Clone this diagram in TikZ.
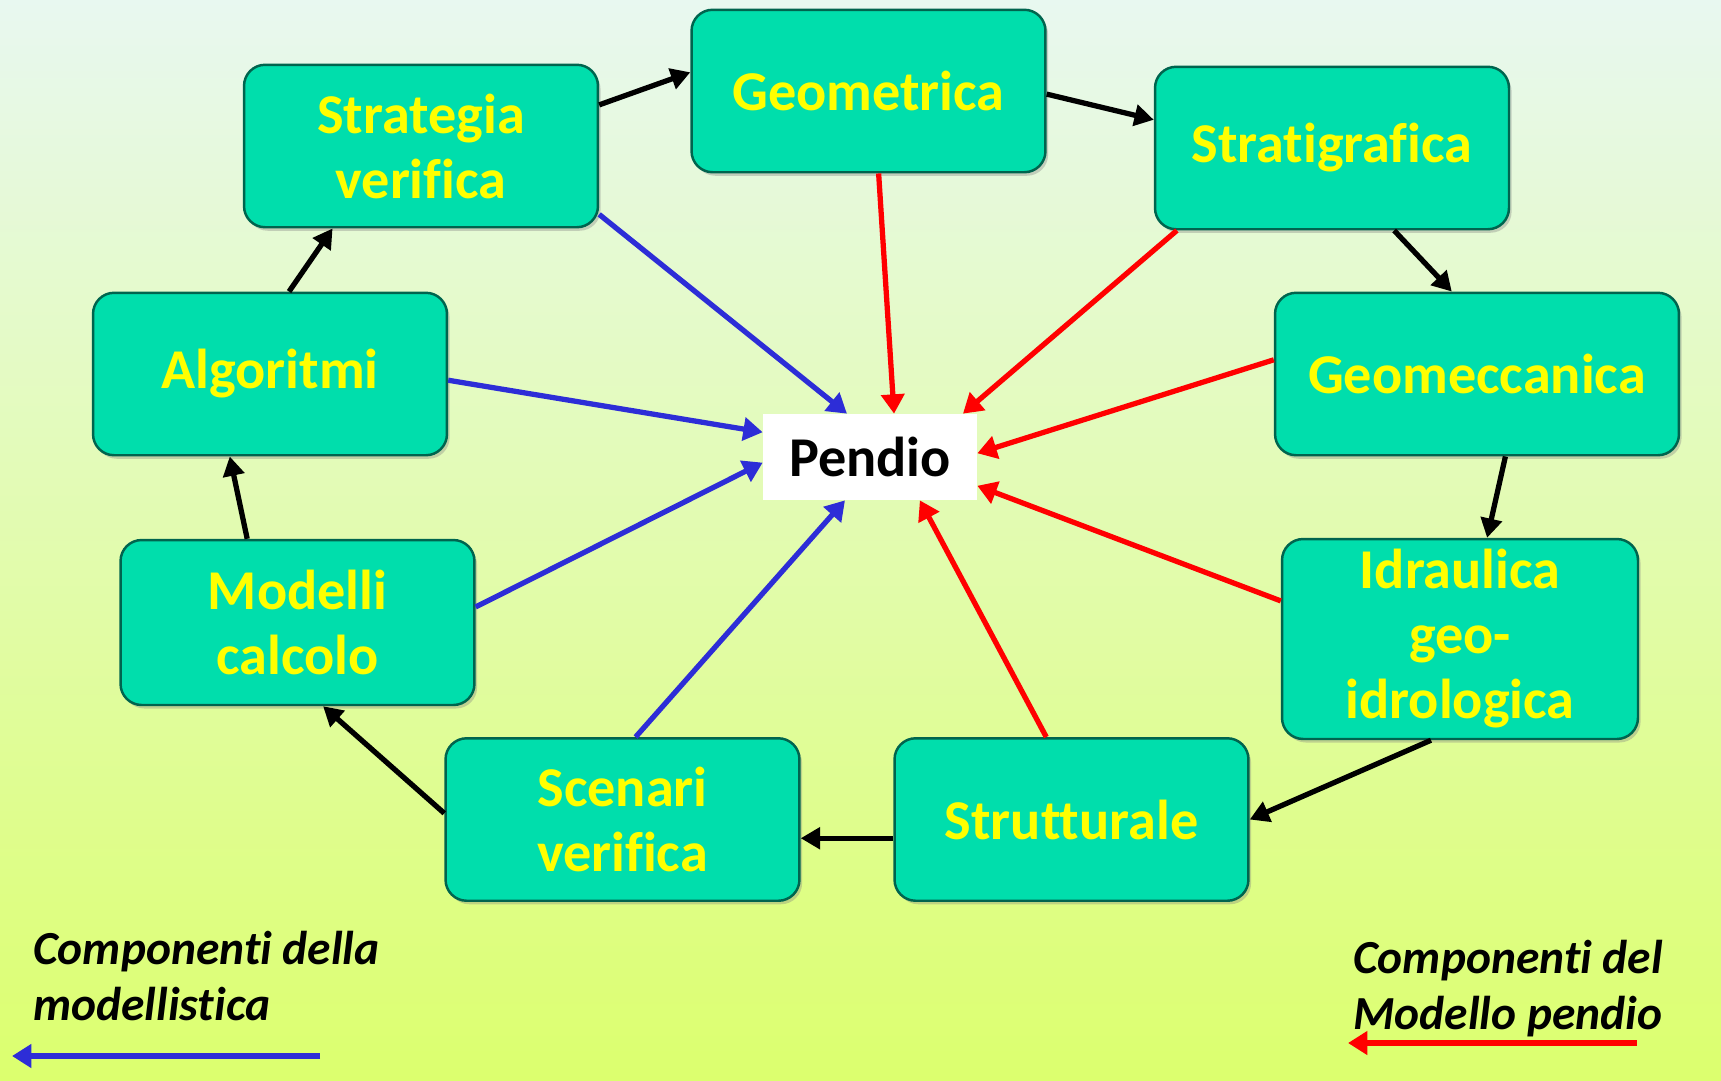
\documentclass[tikz,border=0pt]{standalone}
\usepackage{fontspec}
\setmainfont{Carlito}[Ligatures={NoCommon}]
\usetikzlibrary{arrows.meta,shadows}
\definecolor{boxfill}{RGB}{0,222,172}
\definecolor{boxline}{RGB}{0,100,78}
\definecolor{boxtext}{RGB}{255,255,0}
\definecolor{modblue}{RGB}{45,45,215}
\definecolor{pendred}{RGB}{255,0,0}
\definecolor{bgtop}{RGB}{232,248,240}
\definecolor{bgmid}{RGB}{224,250,200}
\definecolor{bgbot}{RGB}{220,255,110}
\def\boxnode{\node[draw=boxline, line width=1.4pt, fill=boxfill, rounded corners=12pt, drop shadow={opacity=0.35, shadow xshift=1.5pt, shadow yshift=-2pt}, text=boxtext, font=\fontsize{32}{37}\selectfont\bfseries, align=center, minimum width=7.08cm, minimum height=3.25cm, inner sep=0pt]}
\def\pendnode{\node[fill=white, text=black, font=\fontsize{32}{37}\selectfont\bfseries, minimum width=4.28cm, minimum height=1.72cm, inner sep=0pt]}
\def\legnode{\node[anchor=north west, align=left, inner sep=0pt, font=\fontsize{27}{32}\selectfont\bfseries\itshape]}
\def\drawcycle{\draw[black, line width=3pt, -{Triangle[length=11pt, width=12pt]}]}
\def\drawmod{\draw[modblue, line width=3pt, -{Triangle[length=11pt, width=13pt]}]}
\def\drawpend{\draw[pendred, line width=3pt, -{Triangle[length=11pt, width=13pt]}]}

\begin{document}
\begin{tikzpicture}[x=0.02cm, y=-0.02cm]
\shade[top color=bgtop, middle color=bgmid, bottom color=bgbot] (0,0) rectangle (1721,1080);
\useasboundingbox (0,0) rectangle (1721,1080);
\boxnode (strategia) at (421,146) {Strategia\\verifica};
\boxnode (geometrica) at (868.5,91) {Geometrica};
\boxnode (stratigrafica) at (1332,148) {Stratigrafica};
\boxnode (geomeccanica) [minimum width=8.08cm] at (1477,374) {Geomeccanica};
\boxnode (idraulica) [minimum width=7.12cm, minimum height=4cm] at (1460,639) {Idraulica\\geo-\\idrologica};
\boxnode (strutturale) at (1071.5,819.5) {Strutturale};
\boxnode (scenari) at (622.5,819.5) {Scenari\\verifica};
\boxnode (modelli) [minimum height=3.3cm] at (297.5,622.5) {Modelli\\calcolo};
\boxnode (algoritmi) at (270,374) {Algoritmi};
\pendnode (pendio) at (870,457) {Pendio};
\drawcycle (strategia.13) -- (geometrica.174);
\drawcycle (geometrica.-1) -- (stratigrafica.171);
\drawcycle (stratigrafica.-53) -- (geomeccanica.107);
\drawcycle (geomeccanica.-71) -- (idraulica.75);
\drawcycle (idraulica.-106) -- (strutturale.0);
\drawcycle (strutturale.186) -- (scenari.-6);
\drawcycle (scenari.178) -- (modelli.-73);
\drawcycle (modelli.121) -- (algoritmi.-116);
\drawcycle (algoritmi.77) -- (strategia.-137);
\drawmod (strategia.-21) -- (pendio.118);
\drawmod (algoritmi.-2) -- (pendio.167);
\drawmod (modelli.5) -- (pendio.183);
\drawmod (scenari.81) -- (pendio.-120);
\drawpend (geometrica.-83) -- (pendio.61);
\drawpend (stratigrafica.-152) -- (pendio.25);
\drawpend (geomeccanica.176) -- (pendio.2);
\drawpend (idraulica.168) -- (pendio.-15);
\drawpend (strutturale.107) -- (pendio.-41);
\legnode (legmod) at (33,931) {Componenti della\\modellistica};
\legnode (legpend) at (1353,940) {Componenti del\\Modello pendio};
\coordinate (modtail) at (320,1056);
\coordinate (modtip) at (12,1056);
\drawmod (modtail) -- (modtip);
\coordinate (pendtail) at (1637,1043);
\coordinate (pendtip) at (1348,1043);
\drawpend (pendtail) -- (pendtip);
\end{tikzpicture}
\end{document}
